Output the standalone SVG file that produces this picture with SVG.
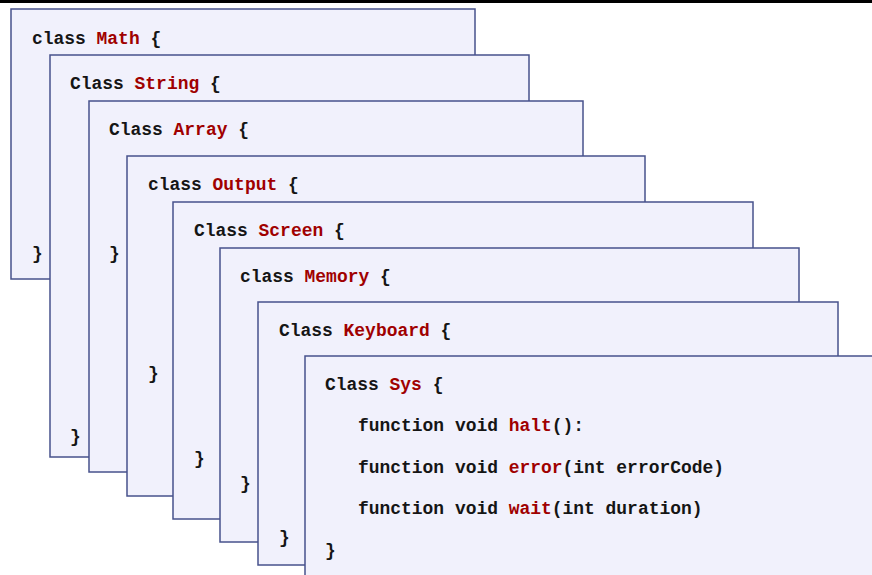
<svg xmlns="http://www.w3.org/2000/svg" width="872" height="575" viewBox="0 0 872 575">
<style>
.card{fill:#f1f1fc;stroke:#47528c;stroke-width:1.5}
text{font-family:"Liberation Mono","Courier New",monospace;font-weight:bold;font-size:17.95px;fill:#151515}
.r{fill:#a00000}
</style>
<rect x="0" y="0" width="872" height="3" fill="#000"/>
<g id="math">
<rect class="card" x="11" y="9" width="464" height="270"/>
<text x="32" y="44">class <tspan class="r">Math</tspan> {</text>
<text x="32" y="259">}</text>
</g>
<g id="string">
<rect class="card" x="50" y="55" width="479" height="402"/>
<text x="70" y="89">Class <tspan class="r">String</tspan> {</text>
<text x="70" y="442">}</text>
</g>
<g id="array">
<rect class="card" x="89" y="101" width="494" height="371"/>
<text x="109" y="135">Class <tspan class="r">Array</tspan> {</text>
<text x="109" y="259">}</text>
</g>
<g id="output">
<rect class="card" x="127" y="156" width="518" height="340"/>
<text x="148" y="190">class <tspan class="r">Output</tspan> {</text>
<text x="148" y="379">}</text>
</g>
<g id="screen">
<rect class="card" x="173" y="202" width="580" height="317"/>
<text x="194" y="236">Class <tspan class="r">Screen</tspan> {</text>
<text x="194" y="464">}</text>
</g>
<g id="memory">
<rect class="card" x="220" y="248" width="579" height="294"/>
<text x="240" y="282">class <tspan class="r">Memory</tspan> {</text>
<text x="240" y="489">}</text>
</g>
<g id="keyboard">
<rect class="card" x="258" y="302" width="580" height="263"/>
<text x="279" y="336">Class <tspan class="r">Keyboard</tspan> {</text>
<text x="279" y="543">}</text>
</g>
<g id="sys">
<rect class="card" x="305" y="356" width="580" height="240"/>
<text x="325" y="390">Class <tspan class="r">Sys</tspan> {</text>
<text x="358" y="431">function void <tspan class="r">halt</tspan>():</text>
<text x="358" y="473">function void <tspan class="r">error</tspan>(int errorCode)</text>
<text x="358" y="514">function void <tspan class="r">wait</tspan>(int duration)</text>
<text x="325" y="556">}</text>
</g>
<g id="connectors"/>
</svg>
